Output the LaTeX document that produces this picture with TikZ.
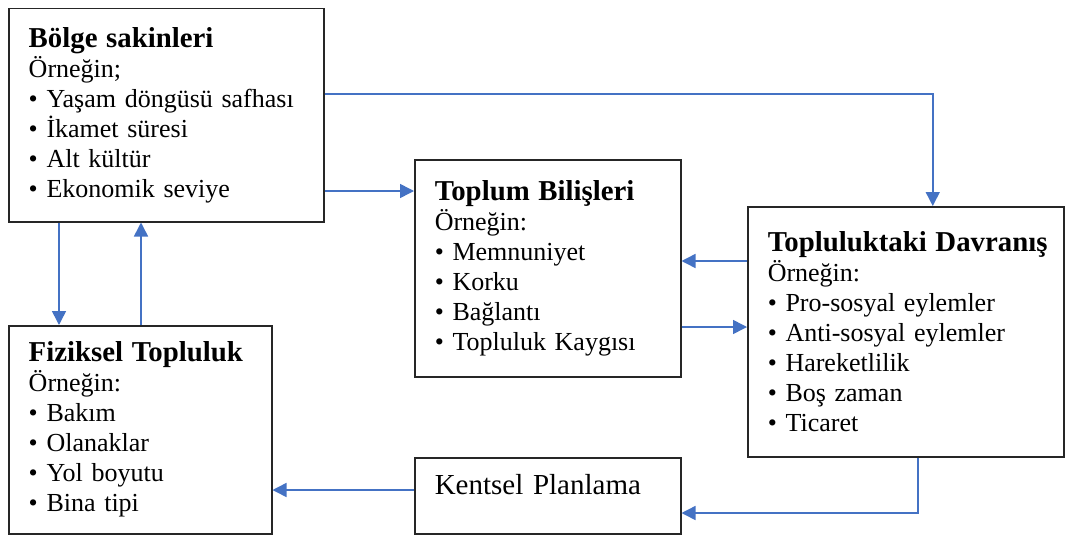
\documentclass[tikz,border=0pt]{standalone}
\usepackage{fontspec}
\setmainfont{Liberation Serif}
\usepackage{tikz}
\usetikzlibrary{arrows.meta,positioning}
\definecolor{linkblue}{HTML}{4472C4}
\tikzset{
	defaultstyle/.style={
		x=0.5pt,
		y=-0.5pt,
		>={Triangle[length=7pt,width=7pt]}}}
\newcommand{\boxtitle}[1]{\makebox[0pt][l]{\fontsize{14.4}{15}\selectfont\bfseries #1}}

\begin{document}
\begin{tikzpicture}[defaultstyle,
	mybox/.style={draw=black!85, line width=0.75pt, anchor=north west, align=left,
		inner xsep=10pt, inner ysep=0pt, font=\fontsize{13}{15}\selectfont},
	link/.style={->, draw=linkblue, line width=0.75pt},
	]

	\useasboundingbox (0,0) rectangle (1068,535);

	\node[mybox, minimum width=157.5pt, minimum height=106.5pt, text width=137.5pt] (bolge) at (8, 8) {\boxtitle{Bölge sakinleri}\\
		Örneğin;\\
		\textbullet\ Yaşam döngüsü safhası\\
		\textbullet\ İkamet süresi\\
		\textbullet\ Alt kültür\\
		\textbullet\ Ekonomik seviye};

	\node[mybox, minimum width=131.5pt, minimum height=104pt, text width=111.5pt] (fiziksel) at (8, 325) {\boxtitle{Fiziksel Topluluk}\\
		Örneğin:\\
		\textbullet\ Bakım\\
		\textbullet\ Olanaklar\\
		\textbullet\ Yol boyutu\\
		\textbullet\ Bina tipi};

	\node[mybox, minimum width=133pt, minimum height=108.5pt, text width=113pt] (toplum) at (414, 159) {\boxtitle{Toplum Bilişleri}\\
		Örneğin:\\
		\textbullet\ Memnuniyet\\
		\textbullet\ Korku\\
		\textbullet\ Bağlantı\\
		\textbullet\ Topluluk Kaygısı};

	\node[mybox, minimum width=158pt, minimum height=125pt, text width=138pt] (davranis) at (747, 206) {\boxtitle{Topluluktaki Davranış}\\
		Örneğin:\\
		\textbullet\ Pro-sosyal eylemler\\
		\textbullet\ Anti-sosyal eylemler\\
		\textbullet\ Hareketlilik\\
		\textbullet\ Boş zaman\\
		\textbullet\ Ticaret};

	\node[mybox, minimum width=133pt, minimum height=38pt, text width=113pt, text depth=11pt,
		font=\fontsize{14.5}{15}\selectfont] (kentsel) at (414, 457) {Kentsel Planlama};

	\draw[link] ([yshift=-43pt]bolge.north east) -| ([xshift=13.5pt]davranis.north);
	\draw[link] ([yshift=-91.5pt]bolge.north east) -- ([yshift=-16pt]toplum.north west);
	\draw[link] ([xshift=25.5pt]bolge.south west) -- ([xshift=25.5pt]fiziksel.north west);
	\draw[link] ([xshift=66.5pt]fiziksel.north west) -- ([xshift=66.5pt]bolge.south west);
	\draw[link] ([yshift=-27.5pt]davranis.north west) -- ([yshift=-51pt]toplum.north east);
	\draw[link] ([yshift=-84pt]toplum.north east) -- ([yshift=-60.5pt]davranis.north west);
	\draw[link] ([xshift=85.5pt]davranis.south west) |- ([yshift=-28pt]kentsel.north east);
	\draw[link] ([yshift=-16.5pt]kentsel.north west) -- ([yshift=-82.5pt]fiziksel.north east);

\end{tikzpicture}
\end{document}
